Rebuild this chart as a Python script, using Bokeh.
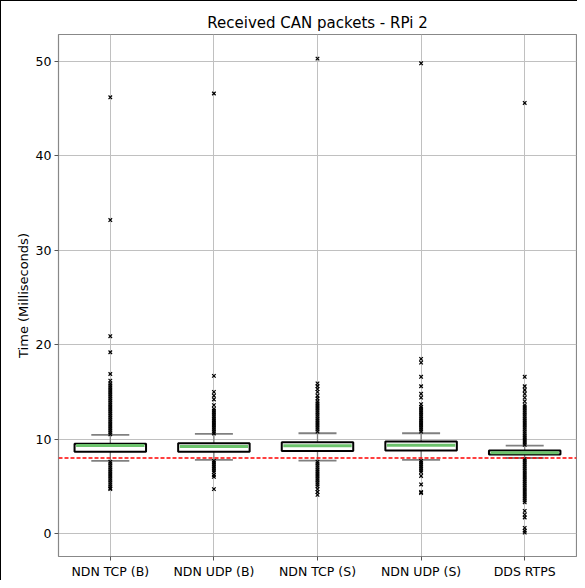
from bokeh.plotting import figure
from bokeh.models import Range1d, FixedTicker, Whisker, ColumnDataSource, TeeHead, Span
from bokeh.embed import file_html
from bokeh.resources import INLINE

categories = ["NDN TCP (B)", "NDN UDP (B)", "NDN TCP (S)", "NDN UDP (S)", "DDS RTPS"]
q1 = [8.65, 8.65, 8.75, 8.79, 8.36]
median = [9.32, 9.22, 9.3, 9.34, 8.57]
q3 = [9.5, 9.57, 9.67, 9.74, 8.79]
whisk_lo = [7.7, 7.8, 7.73, 7.8, 8.0]
whisk_hi = [10.45, 10.55, 10.62, 10.62, 9.32]
threshold = 8.0

outliers = [
    [46.2, 33.2, 20.9, 19.2, 16.9, 16.2, 15.9, 15.7, 15.5, 15.3, 15.1, 14.9, 14.7, 14.5, 14.3, 14.1,
     13.9, 13.7, 13.5, 13.3, 13.1, 12.9, 12.7, 12.5, 12.3, 12.1, 11.9, 11.7, 11.5, 11.3, 11.1, 10.9,
     10.7, 10.5,
     7.6, 7.4, 7.2, 7.0, 6.8, 6.6, 6.4, 6.2, 6.0, 5.8, 5.6, 5.4, 5.2, 5.0, 4.8, 4.7],
    [46.6, 16.7, 15.0, 14.6, 14.2, 13.6, 13.2, 13.0, 12.8, 12.6, 12.4, 12.2, 12.0, 11.8, 11.6, 11.4,
     11.2, 11.0, 10.8, 10.6,
     7.7, 7.5, 7.3, 7.1, 6.9, 6.7, 6.5, 6.2, 6.0, 4.7],
    [50.3, 15.9, 15.6, 15.3, 15.0, 14.6, 14.3, 14.0, 13.8, 13.6, 13.4, 13.2, 13.0, 12.8, 12.6, 12.4,
     12.2, 12.0, 11.8, 11.6, 11.4, 11.2, 11.0, 10.8,
     7.6, 7.4, 7.2, 7.0, 6.8, 6.6, 6.4, 6.2, 6.0, 5.8, 5.6, 5.4, 5.2, 5.0, 4.7, 4.4, 4.1],
    [49.8, 18.5, 18.1, 16.6, 15.6, 14.8, 14.4, 13.7, 13.4, 13.2, 13.0, 12.8, 12.6, 12.4, 12.2, 12.0,
     11.8, 11.6, 11.4, 11.2, 11.0, 10.8,
     7.7, 7.5, 7.3, 7.1, 6.9, 6.7, 6.5, 6.1, 5.2, 4.4, 4.3],
    [45.6, 16.6, 15.6, 15.2, 14.8, 14.4, 14.0, 13.6, 13.4, 13.2, 13.0, 12.8, 12.6, 12.4, 12.2, 12.0,
     11.8, 11.6, 11.4, 11.2, 11.0, 10.8, 10.6, 10.4, 10.2, 10.0, 9.8, 9.6, 9.4,
     7.9, 7.7, 7.5, 7.3, 7.1, 6.9, 6.7, 6.5, 6.3, 6.1, 5.9, 5.7, 5.5, 5.3, 5.1, 4.9, 4.7, 4.5, 4.3,
     4.1, 3.9, 3.7, 3.5, 3.3, 2.4, 2.0, 1.7, 0.6, 0.3, 0.1],
]
yticks = [0, 10, 20, 30, 40, 50]

FONT = "DejaVu Sans"
BOX_W = 0.69
pos = [i + 1 for i in range(len(categories))]

p = figure(width=577, height=580, output_backend="svg", toolbar_location=None,
           x_range=Range1d(0.5, 5.5), y_range=Range1d(-2.43, 52.85),
           min_border_left=57, min_border_right=2, min_border_top=33, min_border_bottom=23,
           title="Received CAN packets - RPi 2")
p.styles = {"border-left": "1.5px solid black", "border-top": "1.5px solid black"}

p.title.align = "center"
p.title.text_font = FONT
p.title.text_font_size = "15px"
p.title.text_font_style = "normal"
p.title.text_color = "black"
p.title.offset = 0
p.title.standoff = 6

p.outline_line_color = "#888888"
p.outline_line_width = 1.2

p.xaxis.ticker = FixedTicker(ticks=pos)
p.xaxis.major_label_overrides = {pp: c for pp, c in zip(pos, categories)}
p.yaxis.ticker = FixedTicker(ticks=yticks)
for ax in (p.xaxis, p.yaxis):
    ax.axis_line_color = None
    ax.major_tick_line_color = "#555555"
    ax.major_tick_out = 4
    ax.major_tick_in = 0
    ax.minor_tick_line_color = None
    ax.major_label_text_font = FONT
    ax.major_label_text_font_size = "12.5px"
    ax.major_label_text_color = "black"
    ax.major_label_standoff = 3
p.yaxis.axis_label = "Time (Milliseconds)"
p.yaxis.axis_label_text_font = FONT
p.yaxis.axis_label_text_font_size = "13px"
p.yaxis.axis_label_text_font_style = "normal"
p.yaxis.axis_label_text_color = "black"
p.yaxis.axis_label_standoff = 2

p.xgrid.grid_line_color = "#c0c0c0"
p.ygrid.grid_line_color = "#c0c0c0"
p.xgrid.grid_line_width = 1
p.ygrid.grid_line_width = 1

# whiskers
src = ColumnDataSource(dict(x=pos, q1=q1, q3=q3, med=median, lo=whisk_lo, hi=whisk_hi,
                            x0=[pp - BOX_W / 2 + 0.015 for pp in pos],
                            x1=[pp + BOX_W / 2 - 0.015 for pp in pos]))
wh = Whisker(base="x", upper="hi", lower="q3", source=src, line_color="#808080", line_width=1.3,
             upper_head=TeeHead(size=38, line_color="#808080", line_width=1.8), lower_head=None)
wl = Whisker(base="x", upper="q1", lower="lo", source=src, line_color="#808080", line_width=1.3,
             lower_head=TeeHead(size=38, line_color="#808080", line_width=1.8), upper_head=None)
p.add_layout(wh)
p.add_layout(wl)

# outliers
ox, oy = [], []
for pp, vals in zip(pos, outliers):
    ox += [pp] * len(vals)
    oy += vals
p.scatter(ox, oy, marker="x", size=5, line_color="black", line_width=1.2)

# boxes
p.vbar(x="x", width=BOX_W, bottom="q1", top="q3", source=src, fill_color="white",
       line_color="black", line_width=2)
p.segment(x0="x0", x1="x1", y0="med", y1="med", source=src,
          line_color="#6cc36c", line_width=3)

p.add_layout(Span(location=threshold, dimension="width", line_color="red",
                  line_dash="4 2", line_width=1.6))

open("out.html", "w").write(file_html(p, INLINE))
